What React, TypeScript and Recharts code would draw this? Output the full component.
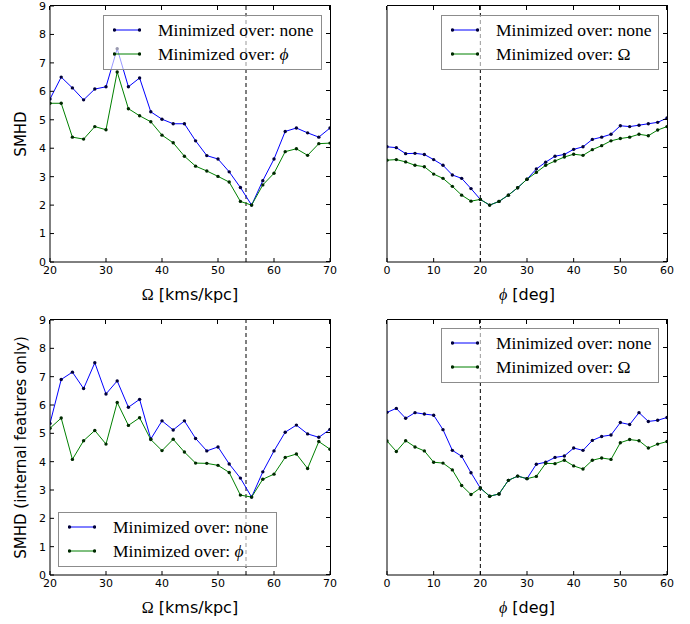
import React from 'react'
import { LineChart, Line, XAxis, YAxis, ReferenceLine, Legend, Label } from 'recharts'

// x grids
const OMEGA_X = [20, 22, 24, 26, 28, 30, 32, 34, 36, 38, 40, 42, 44, 46, 48, 50, 52, 54, 56, 58, 60, 62, 64, 66, 68, 70]
const PHI_X = [0, 2, 4, 6, 8, 10, 12, 14, 16, 18, 20, 22, 24, 26, 28, 30, 32, 34, 36, 38, 40, 42, 44, 46, 48, 50, 52, 54, 56, 58, 60]

const OMEGA_TICKS = [20, 30, 40, 50, 60, 70]
const PHI_TICKS = [0, 10, 20, 30, 40, 50, 60]
const Y_TICKS = [0, 1, 2, 3, 4, 5, 6, 7, 8, 9]

// SMHD, all features
const TL_NONE = [5.73, 6.5, 6.12, 5.7, 6.08, 6.16, 7.5, 6.16, 6.47, 5.28, 5.02, 4.86, 4.86, 4.26, 3.74, 3.62, 3.17, 2.62, 2.0, 2.86, 3.62, 4.59, 4.71, 4.54, 4.39, 4.71]
const TL_PHI = [5.58, 5.58, 4.39, 4.32, 4.76, 4.65, 6.68, 5.39, 5.14, 4.93, 4.46, 4.19, 3.72, 3.37, 3.2, 3.01, 2.81, 2.13, 2.0, 2.71, 3.12, 3.88, 3.98, 3.75, 4.16, 4.18]
const TR_NONE = [4.05, 4.02, 3.81, 3.82, 3.78, 3.6, 3.4, 3.06, 2.94, 2.58, 2.2, 2.0, 2.13, 2.35, 2.61, 2.91, 3.27, 3.51, 3.72, 3.78, 3.96, 4.05, 4.31, 4.39, 4.49, 4.79, 4.76, 4.81, 4.86, 4.91, 5.06]
const TR_OMEGA = [3.58, 3.6, 3.52, 3.4, 3.35, 3.09, 2.94, 2.66, 2.35, 2.14, 2.2, 2.0, 2.13, 2.35, 2.61, 2.91, 3.15, 3.4, 3.55, 3.69, 3.79, 3.75, 3.95, 4.09, 4.26, 4.34, 4.39, 4.49, 4.44, 4.64, 4.76]

// SMHD, internal features only
const BL_NONE = [5.35, 6.9, 7.16, 6.58, 7.49, 6.39, 6.85, 5.92, 6.2, 4.8, 5.44, 5.12, 5.44, 4.82, 4.38, 4.52, 3.92, 3.42, 2.75, 3.64, 4.38, 5.04, 5.29, 4.98, 4.86, 5.14]
const BL_PHI = [5.18, 5.54, 4.08, 4.74, 5.1, 4.62, 6.09, 5.28, 5.55, 4.78, 4.39, 4.79, 4.34, 3.95, 3.94, 3.87, 3.62, 2.82, 2.75, 3.38, 3.56, 4.15, 4.27, 3.76, 4.71, 4.44]
const BR_NONE = [5.74, 5.88, 5.53, 5.73, 5.68, 5.64, 5.13, 4.4, 4.19, 3.61, 3.07, 2.78, 2.86, 3.34, 3.49, 3.4, 3.91, 3.98, 4.15, 4.2, 4.48, 4.4, 4.75, 4.89, 4.94, 5.38, 5.31, 5.73, 5.42, 5.46, 5.56]
const BR_OMEGA = [4.73, 4.36, 4.74, 4.52, 4.38, 3.98, 3.95, 3.71, 3.16, 2.84, 3.07, 2.78, 2.86, 3.34, 3.49, 3.4, 3.48, 3.94, 3.93, 4.05, 3.85, 3.74, 4.05, 4.13, 4.08, 4.67, 4.78, 4.74, 4.48, 4.62, 4.71]

const BLUE = '#0000ff'
const GREEN = '#008000'
const SANS = '"DejaVu Sans", sans-serif'
const SERIF = '"Liberation Serif", "DejaVu Serif", serif'
const TICK = { fontSize: 11, fill: '#000', fontFamily: SANS }

const PHI_SYM = <i style={{ fontFamily: SERIF }}>ϕ</i>
const OMEGA_SYM = <span style={{ fontFamily: SERIF }}>Ω</span>

function LegendBox({ second }: { second: React.ReactNode }) {
  const rows = [
    { color: BLUE, dot: '#00003a', label: <>Minimized over: none</> },
    { color: GREEN, dot: '#002a00', label: <>Minimized over: {second}</> },
  ]
  return (
    <div style={{ width: '100%', height: '100%', boxSizing: 'border-box', border: '1px solid #8c8c8c', background: 'rgba(255,255,255,0.6)', position: 'relative' }}>
      {rows.map((r, i) => (
        <div key={i} style={{ position: 'absolute', left: 9, top: i === 0 ? 2 : 26, height: 24, display: 'flex', alignItems: 'center' }}>
          <svg width={28} height={8} style={{ display: 'block' }}>
            <line x1={1} y1={4} x2={27} y2={4} stroke={r.color} strokeWidth={1} />
            <circle cx={1.5} cy={4} r={1.7} fill={r.dot} />
            <circle cx={26.5} cy={4} r={1.7} fill={r.dot} />
          </svg>
          <span style={{ marginLeft: 17, fontFamily: SERIF, fontSize: 17.5, whiteSpace: 'nowrap', lineHeight: '24px', color: '#000' }}>{r.label}</span>
        </div>
      ))}
    </div>
  )
}

// top + right edges of the axes box, with inward ticks (matplotlib classic frame)
function FrameOverlay({ left, top, w, h, xTicks }: { left: number; top: number; w: number; h: number; xTicks: number[] }) {
  const t0 = xTicks[0], t1 = xTicks[xTicks.length - 1]
  return (
    <div style={{ position: 'absolute', left, top: top - 1, width: w + 1, height: h + 1, boxSizing: 'border-box',
      borderTop: '1px solid #000', borderRight: '1px solid #000', pointerEvents: 'none', zIndex: 5 }}>
      {xTicks.map(t => (
        <div key={`x${t}`} style={{ position: 'absolute', top: 0, width: 1, height: 4, background: '#000',
          left: Math.round(((t - t0) / (t1 - t0)) * w) - 1 }} />
      ))}
      {Y_TICKS.map(t => (
        <div key={`y${t}`} style={{ position: 'absolute', right: 0, width: 4, height: 1, background: '#000',
          top: Math.round(h - (t / 9) * h) - 1 }} />
      ))}
    </div>
  )
}

interface PanelProps {
  left: number; top: number; width: number; height: number
  marginTop: number; marginRight: number
  yWidth: number; xHeight: number
  xs: number[]; xTicks: number[]; none: number[]; other: number[]
  vline: number
  xLabel: 'omega' | 'phi'
  yLabel?: string
  second: React.ReactNode
  legend: { left: number; top: number; width: number; height: number }
}

function Panel(p: PanelProps) {
  const data = p.xs.map((x, i) => ({ x, none: p.none[i], other: p.other[i] }))
  const xMin = p.xTicks[0]
  const xMax = p.xTicks[p.xTicks.length - 1]
  const plotW = p.width - p.yWidth - p.marginRight
  const plotH = p.height - p.marginTop - p.xHeight

  const xLabelContent = (props: any) => {
    const { x, y, width } = props.viewBox
    return (
      <text x={x + width / 2} y={y + 38} textAnchor="middle" fontSize={16} fontFamily={SANS} fill="#000">
        {p.xLabel === 'omega'
          ? <><tspan fontFamily={SERIF}>Ω</tspan><tspan> [kms/kpc]</tspan></>
          : <><tspan fontFamily={SERIF} fontStyle="italic">ϕ</tspan><tspan> [deg]</tspan></>}
      </text>
    )
  }

  const yLabelContent = (props: any) => {
    const { y, height } = props.viewBox
    const cy = y + height / 2
    return (
      <text x={21} y={cy} transform={`rotate(-90 21 ${cy})`} textAnchor="middle" dominantBaseline="central" fontSize={15} fontFamily={SANS} fill="#000">
        {p.yLabel}
      </text>
    )
  }

  return (
    <div style={{ position: 'absolute', left: p.left, top: p.top, width: p.width, height: p.height }}>
      <LineChart width={p.width} height={p.height} data={data}
        margin={{ top: p.marginTop, right: p.marginRight, bottom: 0, left: 0 }}>
        <XAxis dataKey="x" type="number" domain={[xMin, xMax]} ticks={p.xTicks} allowDataOverflow
          height={p.xHeight} stroke="#000" tickSize={-4} tickMargin={8} tick={TICK} interval={0}>
          <Label content={xLabelContent} />
        </XAxis>
        <YAxis type="number" domain={[0, 9]} ticks={Y_TICKS} width={p.yWidth} stroke="#000"
          tickSize={-4} tickMargin={8} tick={p.yLabel ? TICK : false} interval={0}>
          {p.yLabel && <Label content={yLabelContent} />}
        </YAxis>
        <ReferenceLine x={p.vline} stroke="#000" strokeDasharray="4 3" strokeWidth={1} />
        <Line type="linear" dataKey="none" stroke={BLUE} strokeWidth={1}
          dot={{ r: 1.7, fill: '#00003a', stroke: 'none' }} isAnimationActive={false} />
        <Line type="linear" dataKey="other" stroke={GREEN} strokeWidth={1}
          dot={{ r: 1.7, fill: '#002a00', stroke: 'none' }} isAnimationActive={false} />
        <Legend layout="horizontal" verticalAlign="middle" align="center"
          wrapperStyle={{ left: p.legend.left, top: p.legend.top, width: p.legend.width, height: p.legend.height }}
          content={() => <LegendBox second={p.second} />} />
      </LineChart>
      <FrameOverlay left={p.yWidth} top={p.marginTop} w={plotW} h={plotH} xTicks={p.xTicks} />
    </div>
  )
}

export default function App() {
  return (
    <div style={{ position: 'absolute', left: 0, top: 0, width: 690, height: 624, background: '#fff' }}>
      <Panel left={0} top={0} width={345} height={310} marginTop={6} marginRight={15} yWidth={50} xHeight={48}
        xs={OMEGA_X} xTicks={OMEGA_TICKS} none={TL_NONE} other={TL_PHI} vline={55} xLabel="omega"
        yLabel="SMHD" second={PHI_SYM} legend={{ left: 103, top: 15, width: 219, height: 55 }} />
      <Panel left={345} top={0} width={345} height={310} marginTop={6} marginRight={23} yWidth={42} xHeight={48}
        xs={PHI_X} xTicks={PHI_TICKS} none={TR_NONE} other={TR_OMEGA} vline={20} xLabel="phi"
        second={OMEGA_SYM} legend={{ left: 96, top: 15, width: 218, height: 55 }} />
      <Panel left={0} top={310} width={345} height={314} marginTop={10} marginRight={15} yWidth={50} xHeight={49}
        xs={OMEGA_X} xTicks={OMEGA_TICKS} none={BL_NONE} other={BL_PHI} vline={55} xLabel="omega"
        yLabel="SMHD (internal features only)" second={PHI_SYM} legend={{ left: 58, top: 202, width: 219, height: 55 }} />
      <Panel left={345} top={310} width={345} height={314} marginTop={10} marginRight={23} yWidth={42} xHeight={49}
        xs={PHI_X} xTicks={PHI_TICKS} none={BR_NONE} other={BR_OMEGA} vline={20} xLabel="phi"
        second={OMEGA_SYM} legend={{ left: 96, top: 18, width: 218, height: 55 }} />
    </div>
  )
}
